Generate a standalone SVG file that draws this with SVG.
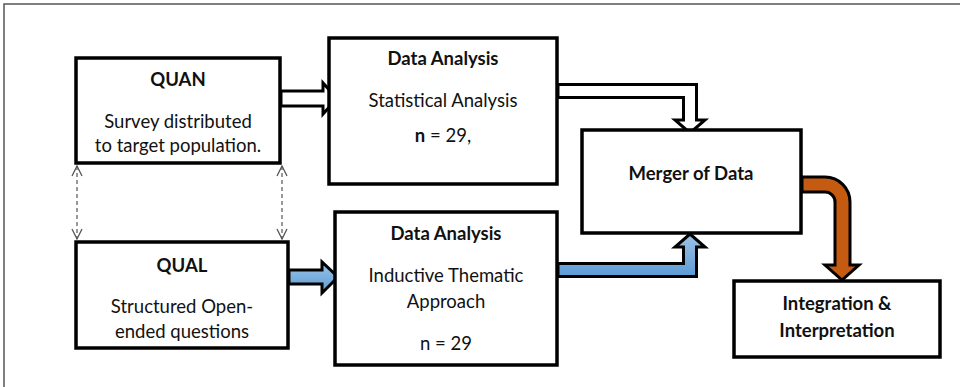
<svg xmlns="http://www.w3.org/2000/svg" width="960" height="387" viewBox="0 0 960 387">
<defs>
<style>
.box{fill:#fff;stroke:#000;stroke-width:3.5}
.t{font-family:Lato,"Liberation Sans",sans-serif;font-size:18.5px;fill:#111;text-anchor:middle}
.b{font-weight:bold}
.hollow{fill:#fff;stroke:#000;stroke-width:3;stroke-linejoin:miter}
.blue{fill:url(#bg);stroke:#000;stroke-width:3}
.dash{stroke:#555;stroke-width:1.2;stroke-dasharray:4 3;fill:none}
</style>
<linearGradient id="bg" x1="0" y1="0" x2="0" y2="1">
<stop offset="0" stop-color="#9dc3e6"/>
<stop offset="1" stop-color="#5b9bd5"/>
</linearGradient>
<marker id="chev" viewBox="0 0 12 12" refX="11" refY="6" markerWidth="12" markerHeight="12" markerUnits="userSpaceOnUse" orient="auto-start-reverse">
<path d="M1,1 L11,6 L1,11" fill="none" stroke="#555" stroke-width="1.3"/>
</marker>
</defs>
<rect width="960" height="387" fill="#fff"/>
<path d="M4,387 V4 H960" fill="none" stroke="#555" stroke-width="1.5"/>

<g id="connectors">
<polygon class="hollow" points="281,91 323,91 323,83 337,98.5 323,114 323,106 281,106"/>
<polygon class="blue" points="289,270 322,270 322,262 338,277 322,293 322,284 289,284"/>
<polygon class="hollow" points="558,84.5 696.5,84.5 696.5,120 705,120 690,133 675,120 683.5,120 683.5,97.5 558,97.5"/>
<polygon class="blue" points="558,276.5 696.5,276.5 696.5,247 705,247 690,234 675,247 683.5,247 683.5,263.5 558,263.5"/>
<path d="M802,177 H825 A25,25 0 0 1 850,202 V265 H859 L842,280 L825,265 H835 V202 A10,10 0 0 0 825,192 H802 Z" fill="#c55a11" stroke="#000" stroke-width="3"/>
<line class="dash" x1="77" y1="166" x2="77" y2="239" marker-start="url(#chev)" marker-end="url(#chev)"/>
<line class="dash" x1="282" y1="166" x2="282" y2="239" marker-start="url(#chev)" marker-end="url(#chev)"/>
</g>

<g id="quan">
<rect class="box" x="76" y="58" width="204" height="105"/>
<text class="t b" x="178" y="86">QUAN</text>
<text class="t" x="178" y="128">Survey distributed</text>
<text class="t" x="178" y="152">to target population.</text>
</g>

<g id="qual">
<rect class="box" x="76" y="242" width="212" height="106"/>
<text class="t b" x="182" y="272">QUAL</text>
<text class="t" x="182" y="313">Structured Open-</text>
<text class="t" x="182" y="338">ended questions</text>
</g>

<g id="da1">
<rect class="box" x="329" y="38" width="228" height="146"/>
<text class="t b" x="443" y="65">Data Analysis</text>
<text class="t" x="443" y="107">Statistical Analysis</text>
<text class="t" x="443" y="142"><tspan class="b">n</tspan> = 29,</text>
</g>

<g id="da2">
<rect class="box" x="335" y="212" width="222" height="153"/>
<text class="t b" x="446" y="240">Data Analysis</text>
<text class="t" x="446" y="282">Inductive Thematic</text>
<text class="t" x="446" y="308">Approach</text>
<text class="t" x="446" y="350">n = 29</text>
</g>

<g id="merger">
<rect class="box" x="582" y="130" width="219" height="103"/>
<text class="t b" x="691" y="180">Merger of Data</text>
</g>

<g id="integration">
<rect class="box" x="734" y="281" width="206" height="76"/>
<text class="t b" x="837" y="310">Integration &amp;</text>
<text class="t b" x="837" y="337">Interpretation</text>
</g>
</svg>
